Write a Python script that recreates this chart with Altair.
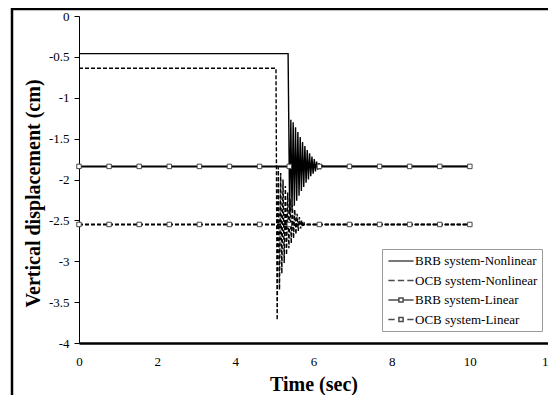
import altair as alt
import pandas as pd

series_names = ["BRB system-Nonlinear", "OCB system-Nonlinear",
                "BRB system-Linear", "OCB system-Linear"]

# BRB system - Nonlinear (time in s, vertical displacement in cm)
brb_nl_t = [0.0, 5.35, 5.39, 5.42, 5.45, 5.48, 5.51, 5.54, 5.57, 5.60, 5.63, 5.66,
            5.69, 5.72, 5.75, 5.78, 5.81, 5.84, 5.87, 5.90, 5.93, 5.96, 5.99, 6.02,
            6.05, 6.08, 6.11, 6.14, 6.17, 6.20, 6.25, 10.0]
brb_nl_v = [-0.46, -0.46, -2.42, -1.27, -2.38, -1.30, -2.32, -1.36, -2.26, -1.42,
            -2.20, -1.48, -2.14, -1.54, -2.09, -1.59, -2.04, -1.64, -2.00, -1.68,
            -1.96, -1.72, -1.93, -1.75, -1.90, -1.78, -1.88, -1.80, -1.86, -1.82,
            -1.84, -1.84]

# OCB system - Nonlinear
ocb_nl_t = [0.0, 5.04, 5.07, 5.10, 5.13, 5.16, 5.19, 5.22, 5.25, 5.28, 5.31, 5.34,
            5.37, 5.40, 5.43, 5.46, 5.49, 5.52, 5.55, 5.58, 5.61, 5.64, 5.67, 5.70,
            5.73, 5.76, 5.80, 10.0]
ocb_nl_v = [-0.64, -0.64, -3.72, -1.85, -3.35, -1.92, -3.15, -2.00, -3.02, -2.08,
            -2.92, -2.16, -2.84, -2.24, -2.78, -2.31, -2.72, -2.37, -2.67, -2.42,
            -2.63, -2.46, -2.60, -2.50, -2.58, -2.53, -2.55, -2.55]

# Linear systems (marker positions)
lin_t = [0.0, 0.77, 1.54, 2.31, 3.08, 3.85, 4.62, 5.38, 6.15, 6.92, 7.69, 8.46, 9.23, 10.0]
brb_lin_v = [-1.84, -1.84, -1.84, -1.84, -1.84, -1.84, -1.84, -1.84, -1.84, -1.84,
             -1.84, -1.84, -1.84, -1.84]
ocb_lin_v = [-2.55, -2.55, -2.55, -2.55, -2.55, -2.55, -2.55, -2.55, -2.55, -2.55,
             -2.55, -2.55, -2.55, -2.55]

x_ticks = [0, 2, 4, 6, 8, 10, 12]
y_ticks = [0, -0.5, -1, -1.5, -2, -2.5, -3, -3.5, -4]

rows = []
for name, ts, vs in [(series_names[0], brb_nl_t, brb_nl_v),
                     (series_names[1], ocb_nl_t, ocb_nl_v),
                     (series_names[2], lin_t, brb_lin_v),
                     (series_names[3], lin_t, ocb_lin_v)]:
    for i, (t, v) in enumerate(zip(ts, vs)):
        rows.append({"t": t, "v": v, "series": name, "i": i})
df = pd.DataFrame(rows)

FONT = "Liberation Serif"

x_enc = alt.X("t:Q", scale=alt.Scale(domain=[0, 12], nice=False, zero=False),
              axis=alt.Axis(values=x_ticks, title="Time (sec)", titleFont=FONT,
                            titleFontSize=20, titleFontWeight="bold", titleColor="black",
                            titleY=41, titleBaseline="middle",
                            labelFont=FONT, labelFontSize=13, labelColor="black",
                            labelFlush=False, labelOverlap=False,
                            ticks=False, labelPadding=12, domainColor="black",
                            domainWidth=2.5, grid=False))
y_enc = alt.Y("v:Q", scale=alt.Scale(domain=[-4, 0], nice=False, zero=False),
              axis=alt.Axis(values=y_ticks, labelExpr="datum.value + ''",
                            title="Vertical displacement (cm)", titleFont=FONT,
                            titleFontSize=20, titleFontWeight="bold", titleColor="black",
                            titleAngle=-90, titleX=-46, titleY=177, titleAlign="center",
                            titleBaseline="middle",
                            labelFont=FONT, labelFontSize=13, labelColor="black",
                            labelFlush=False, labelOverlap=False,
                            ticks=True, tickSize=5, tickColor="black", tickWidth=1,
                            labelPadding=5, domainColor="black", domainWidth=1,
                            grid=False))

# legend symbols drawn as custom paths (line, dashed line, line+square, dash+square)
legend_paths = [
    "M-1.8,0L1.8,0",
    "M-1.8,0L-0.9,0M-0.45,0L0.45,0M0.9,0L1.8,0",
    "M-1.8,0L-0.3,0M0.3,0L1.8,0M-0.3,-0.3L0.3,-0.3L0.3,0.3L-0.3,0.3Z",
    "M-1.8,0L-0.9,0M0.9,0L1.8,0M-0.3,-0.3L0.3,-0.3L0.3,0.3L-0.3,0.3Z",
]

legend = alt.Legend(
    orient="none", legendX=303, legendY=233,
    symbolSize=196, symbolStrokeWidth=1.5,
    symbolStrokeColor="black", symbolFillColor="white", symbolOffset=7,
    labelFont=FONT, labelFontSize=13, labelColor="black", labelOffset=6,
    labelLimit=300,
    rowPadding=4.5, padding=4, strokeColor="#9a9a9a", fillColor="white",
)


def series_line(name, dash, width):
    return alt.Chart(df[df["series"] == name]).mark_line(
        color="black", clip=True, strokeDash=dash, strokeWidth=width
    ).encode(x=x_enc, y=y_enc, order="i:Q")


brb_nl_layer = series_line(series_names[0], [1, 0], 1.4)
ocb_nl_layer = series_line(series_names[1], [4, 2], 1.4)
brb_lin_layer = series_line(series_names[2], [1, 0], 2.0)
ocb_lin_layer = series_line(series_names[3], [4, 2], 2.0)

lin = df[df["series"].str.contains("-Linear")]
pts = alt.Chart(lin).mark_point(shape="square", filled=True, fill="white",
                                stroke="#444444", strokeWidth=1, size=20,
                                opacity=1).encode(x=x_enc, y=y_enc)

legend_layer = alt.Chart(df).mark_point(filled=False, color="black", strokeWidth=1.5,
                                         size=0).encode(
    x=x_enc, y=y_enc,
    shape=alt.Shape("series:N", scale=alt.Scale(domain=series_names, range=legend_paths),
                    legend=legend, title=""))

frame = alt.Chart(alt.Data(values=[{}])).mark_rule(color="black", strokeWidth=2.5, clip=False)
left_border = frame.encode(x=alt.value(-67), y=alt.value(-8), y2=alt.value(400))
top_border = frame.encode(x=alt.value(-67), x2=alt.value(480), y=alt.value(-7))

chart = alt.layer(brb_nl_layer, ocb_nl_layer, brb_lin_layer, ocb_lin_layer, pts,
                  legend_layer, left_border, top_border).properties(
    width=469, height=327,
    padding={"left": 71, "top": 8, "right": 0, "bottom": 52},
    autosize=alt.AutoSizeParams(type="none"),
    background="white",
).configure_view(stroke=None)

chart.save("out.html", embed_options={"renderer": "svg", "actions": False})
